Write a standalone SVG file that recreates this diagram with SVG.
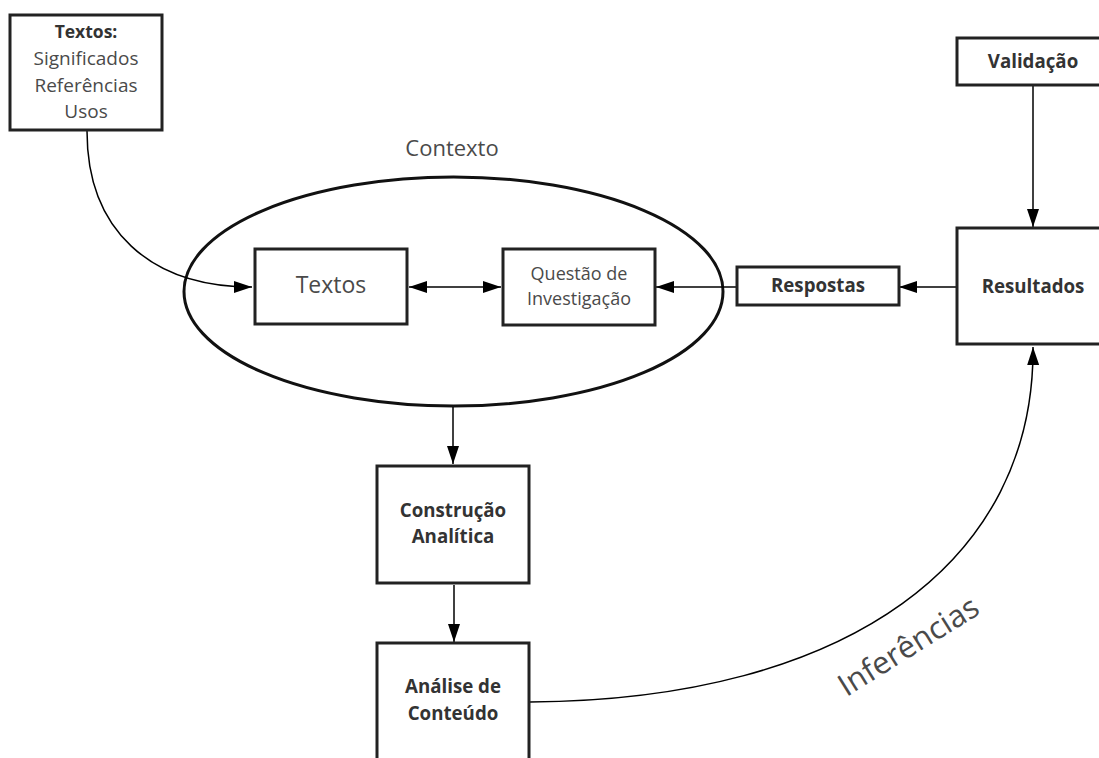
<svg xmlns="http://www.w3.org/2000/svg" width="1099" height="758" viewBox="0 0 1099 758">
<style>
.box{fill:#fff;stroke:#222;stroke-width:3}
.ell{fill:none;stroke:#111;stroke-width:3}
.con{fill:none;stroke:#000;stroke-width:1.5}
.t{font-family:"Open Sans","Noto Sans","Liberation Sans",sans-serif;fill:#4a4a4a;text-anchor:middle}
.b{font-family:"Open Sans","Noto Sans","Liberation Sans",sans-serif;fill:#333;font-weight:bold;text-anchor:middle;font-size:18.7px}
</style>
<defs>
<marker id="ah" markerUnits="userSpaceOnUse" markerWidth="20" markerHeight="14" refX="18" refY="6" orient="auto-start-reverse" viewBox="0 0 20 14">
<path d="M0,0 L18,6 L0,12 z" fill="#000"/>
</marker>
</defs>
<rect width="1099" height="758" fill="#fff"/>
<g id="contexto">
<ellipse class="ell" cx="453.5" cy="291.5" rx="269.5" ry="114.5"/>
<text class="t" x="452" y="156" font-size="22">Contexto</text>
</g>
<g id="connectors">
<path class="con" d="M87,131 C87,230 150,287 252,287" marker-end="url(#ah)"/>
<path class="con" d="M409,287 L501,287" marker-start="url(#ah)" marker-end="url(#ah)"/>
<path class="con" d="M737,287 L656,287" marker-end="url(#ah)"/>
<path class="con" d="M957,287 L899,287" marker-end="url(#ah)"/>
<path class="con" d="M1033,86 L1033,227" marker-end="url(#ah)"/>
<path class="con" d="M453,407 L453,464" marker-end="url(#ah)"/>
<path class="con" d="M454,585 L454,642" marker-end="url(#ah)"/>
<path class="con" d="M530,702 C850,700 1035,560 1033,347" marker-end="url(#ah)"/>
</g>
<g id="textos-fonte">
<rect class="box" x="10" y="15" width="152" height="115"/>
<text class="b" x="86" y="38" style="font-size:17.5px">Textos:</text>
<text class="t" x="86" y="65" font-size="19">Significados</text>
<text class="t" x="86" y="92" font-size="19">Referências</text>
<text class="t" x="86" y="118" font-size="19">Usos</text>
</g>
<g id="textos">
<rect class="box" x="255" y="249" width="152" height="75"/>
<text class="t" x="331" y="293" font-size="23">Textos</text>
</g>
<g id="questao">
<rect class="box" x="503" y="249" width="152" height="76"/>
<text class="t" x="579" y="280" font-size="18">Questão de</text>
<text class="t" x="579" y="305" font-size="18">Investigação</text>
</g>
<g id="respostas">
<rect class="box" x="737" y="267" width="162" height="38"/>
<text class="b" x="818" y="292">Respostas</text>
</g>
<g id="validacao">
<rect class="box" x="957" y="38" width="160" height="47"/>
<text class="b" x="1033" y="68">Validação</text>
</g>
<g id="resultados">
<rect class="box" x="957" y="228" width="160" height="116"/>
<text class="b" x="1033" y="293">Resultados</text>
</g>
<g id="construcao">
<rect class="box" x="377" y="466" width="152" height="117"/>
<text class="b" x="453" y="517">Construção</text>
<text class="b" x="453" y="543">Analítica</text>
</g>
<g id="analise">
<rect class="box" x="377" y="643" width="152" height="130"/>
<text class="b" x="453" y="693">Análise de</text>
<text class="b" x="453" y="720">Conteúdo</text>
</g>
<g id="inferencias">
<text class="t" x="0" y="0" font-size="31" fill="#333" transform="translate(914,655) rotate(-32)">Inferências</text>
</g>
</svg>
